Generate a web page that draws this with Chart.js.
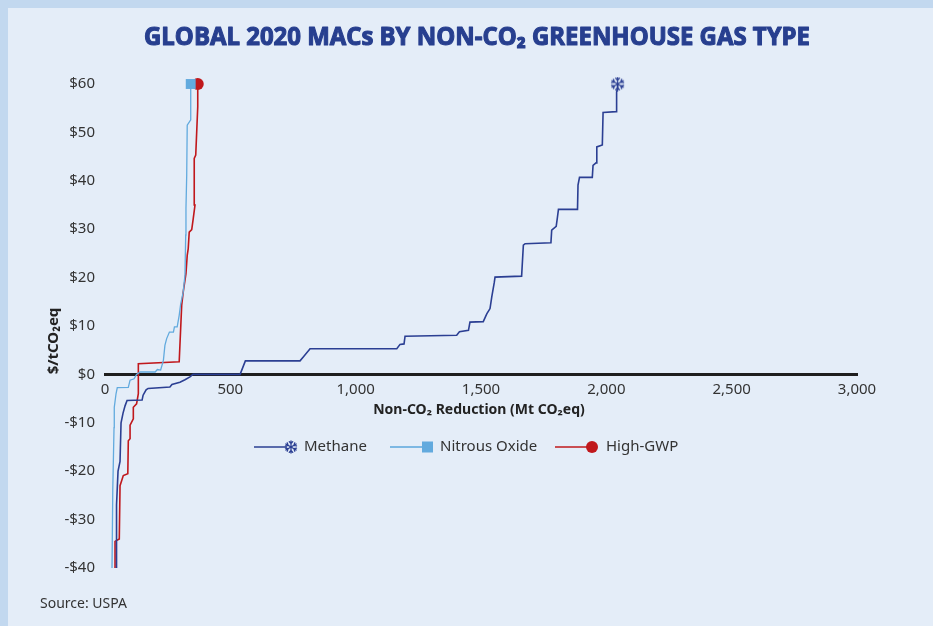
<!DOCTYPE html>
<html>
<head>
<meta charset="utf-8">
<title>Global 2020 MACs by non-CO2 greenhouse gas type</title>
<script src="https://cdn.jsdelivr.net/npm/chart.js@4.4.1/dist/chart.umd.min.js"></script>
<style>
    html, body { margin: 0; padding: 0; background: #e4edf8; }
    #chart { display: block; }
</style>
</head>
<body>
<canvas id="chart" width="933" height="626"></canvas>
<script>
// Curve vertices: reduction (Mt CO2eq) and marginal cost ($/tCO2eq)
const methaneX = [44, 46, 52, 60, 64, 72, 80, 88, 148, 152, 164, 172, 259, 267, 299, 319, 339, 351,
    539, 551, 560, 778, 791, 818, 1164, 1177, 1193, 1197, 1403, 1414, 1450, 1456, 1509, 1523, 1536,
    1543, 1553, 1556, 1662, 1669, 1676, 1779, 1782, 1800, 1805, 1809, 1885, 1887, 1893, 1944, 1947,
    1959, 1962, 1984, 1987, 2039, 2041, 2045, 2045];
const methaneY = [-45, -27, -20, -18, -10, -8, -6.5, -5.4, -5.3, -4.3, -3.2, -2.9, -2.6, -2.1, -1.6, -1.1, -0.5, 0,
    0, 1.6, 2.8, 2.8, 3.6, 5.3, 5.3, 6.2, 6.3, 7.9, 8.1, 8.8, 9.1, 10.8, 10.9, 12.5, 13.6,
    16, 19, 20.1, 20.3, 26.7, 27, 27.2, 29.8, 30.6, 32.5, 34.1, 34.1, 39.1, 40.7, 40.7, 43.2,
    43.7, 47, 47.4, 54.1, 54.3, 58.4, 59.1, 60];

const nitrousX = [27, 31, 36, 37, 44, 49, 93, 100, 116, 126, 140, 200, 209, 222, 233, 239, 246, 257,
    273, 277, 288, 296, 302, 312, 319, 322, 323, 326, 328, 342, 342];
const nitrousY = [-45, -24, -11, -6.8, -4, -2.75, -2.7, -1.2, -0.9, 0, 0.5, 0.5, 1, 0.9, 2.9, 6, 7.4, 8.75,
    8.75, 9.8, 9.8, 12.2, 14.6, 17, 20.5, 28.8, 34.3, 41.2, 51.5, 52.6, 60];

const highGwpX = [40, 40, 57, 60, 73, 91, 93, 100, 100, 113, 113, 126, 133, 133, 296, 306, 312, 323,
    328, 332, 336, 346, 352, 359, 356, 362, 370, 370];
const highGwpY = [-45, -34.5, -34, -23, -20.9, -20.5, -13.7, -13.3, -10.5, -9.2, -6.8, -6.1, -4, 2.2, 2.6, 14.3, 17, 20.8,
    24.6, 26, 29.4, 29.9, 32.2, 35, 44.6, 45.3, 55.3, 60];

const seriesNames = ['Methane', 'Nitrous Oxide', 'High-GWP'];
const xTickValues = [0, 500, 1000, 1500, 2000, 2500, 3000];
const yTickValues = [-40, -30, -20, -10, 0, 10, 20, 30, 40, 50, 60];

const METHANE_COLOR = '#2b3f93';
const NITROUS_COLOR = '#62aade';
const GWP_COLOR = '#c0181c';
const FONT = '"Noto Sans", "Open Sans", sans-serif';

// Turn two arrays into {x, y} points
function toPoints(xs, ys) {
    return xs.map((x, i) => ({ x: x, y: ys[i] }));
}

// Small snowflake, used as the methane marker
function drawSnowflake(ctx, x, y, r, color) {
    ctx.save();
    ctx.strokeStyle = color;
    ctx.lineWidth = 1.3;
    ctx.lineCap = 'round';
    for (let k = 0; k < 6; k++) {
        const a = Math.PI / 2 + k * Math.PI / 3;
        const ex = x + Math.cos(a) * r, ey = y + Math.sin(a) * r;
        ctx.beginPath();
        ctx.moveTo(x, y);
        ctx.lineTo(ex, ey);
        const bx = x + Math.cos(a) * r * 0.55, by = y + Math.sin(a) * r * 0.55;
        [-0.7, 0.7].forEach(d => {
            ctx.moveTo(bx, by);
            ctx.lineTo(bx + Math.cos(a + d) * r * 0.45, by + Math.sin(a + d) * r * 0.45);
        });
        ctx.stroke();
    }
    ctx.restore();
}

function snowflakeCanvas(size, color) {
    const c = document.createElement('canvas');
    c.width = size;
    c.height = size;
    drawSnowflake(c.getContext('2d'), size / 2, size / 2, size / 2 - 1, color);
    return c;
}

// Only the last vertex of each curve gets a marker
function lastOnly(n, r) {
    return ctx => (ctx.dataIndex === n - 1 ? r : 0);
}

// Background, titles, legend and source line
const decor = {
    id: 'decor',
    beforeDraw(chart) {
        const ctx = chart.ctx;
        ctx.save();
        ctx.fillStyle = '#e4edf8';
        ctx.fillRect(0, 0, chart.width, chart.height);
        ctx.fillStyle = '#c2d8ef';
        ctx.fillRect(0, 0, chart.width, 8);
        ctx.fillRect(0, 0, 8, chart.height);
        ctx.restore();
    },
    afterDraw(chart) {
        const ctx = chart.ctx;
        ctx.save();

        // main title, squeezed to the width of the original
        const title = 'GLOBAL 2020 MACs BY NON-CO\u2082 GREENHOUSE GAS TYPE';
        ctx.font = 'bold 25px "Open Sans", sans-serif';
        ctx.fillStyle = '#273f8f';
        ctx.strokeStyle = '#273f8f';
        ctx.lineWidth = 1.1;
        ctx.lineJoin = 'round';
        ctx.textBaseline = 'alphabetic';
        ctx.textAlign = 'left';
        const w = ctx.measureText(title).width;
        const sx = 666 / w;
        ctx.save();
        ctx.translate(144, 45);
        ctx.scale(sx, 1);
        ctx.fillText(title, 0, 0);
        ctx.strokeText(title, 0, 0);
        ctx.restore();

        // x axis title
        ctx.fillStyle = '#222';
        ctx.font = 'bold 14px ' + FONT;
        ctx.textAlign = 'center';
        ctx.textBaseline = 'middle';
        ctx.fillText('Non-CO\u2082 Reduction (Mt CO\u2082eq)', 479, 410);

        // y axis title
        ctx.save();
        ctx.translate(54, 341);
        ctx.rotate(-Math.PI / 2);
        ctx.font = 'bold 15px ' + FONT;
        ctx.fillText('$/tCO\u2082eq', 0, 0);
        ctx.restore();

        // legend
        const ly = 447;
        ctx.lineWidth = 1.6;
        ctx.font = '15px ' + FONT;
        ctx.textAlign = 'left';
        ctx.fillStyle = '#333';

        ctx.strokeStyle = METHANE_COLOR;
        ctx.beginPath(); ctx.moveTo(254, ly); ctx.lineTo(287, ly); ctx.stroke();
        drawSnowflake(ctx, 291, ly, 6, METHANE_COLOR);
        ctx.fillStyle = '#333';
        ctx.fillText(seriesNames[0], 304, ly);

        ctx.strokeStyle = NITROUS_COLOR;
        ctx.beginPath(); ctx.moveTo(390, ly); ctx.lineTo(422, ly); ctx.stroke();
        ctx.fillStyle = NITROUS_COLOR;
        ctx.fillRect(422, ly - 5.5, 11, 11);
        ctx.fillStyle = '#333';
        ctx.fillText(seriesNames[1], 440, ly);

        ctx.strokeStyle = GWP_COLOR;
        ctx.beginPath(); ctx.moveTo(555, ly); ctx.lineTo(588, ly); ctx.stroke();
        ctx.fillStyle = GWP_COLOR;
        ctx.beginPath(); ctx.arc(592, ly, 6, 0, Math.PI * 2); ctx.fill();
        ctx.fillStyle = '#333';
        ctx.fillText(seriesNames[2], 606, ly);

        // source
        ctx.font = '14px ' + FONT;
        ctx.fillText('Source: USPA', 40, 604);

        ctx.restore();
    }
};

document.addEventListener('DOMContentLoaded', function () {
    const ctx = document.getElementById('chart').getContext('2d');
    const clip = { left: 5, top: false, right: 5, bottom: 0 };

    new Chart(ctx, {
        type: 'scatter',
        data: {
            datasets: [{
                label: seriesNames[0],
                data: toPoints(methaneX, methaneY),
                showLine: true,
                borderColor: METHANE_COLOR,
                borderWidth: 1.6,
                pointStyle: snowflakeCanvas(15, METHANE_COLOR),
                pointRadius: lastOnly(methaneX.length, 6),
                clip: clip
            }, {
                label: seriesNames[1],
                data: toPoints(nitrousX, nitrousY),
                showLine: true,
                borderColor: NITROUS_COLOR,
                borderWidth: 1.3,
                pointStyle: 'rect',
                pointRadius: lastOnly(nitrousX.length, 7),
                pointBackgroundColor: NITROUS_COLOR,
                pointBorderWidth: 0,
                clip: clip
            }, {
                label: seriesNames[2],
                data: toPoints(highGwpX, highGwpY),
                showLine: true,
                borderColor: GWP_COLOR,
                borderWidth: 1.6,
                pointStyle: 'circle',
                pointRadius: lastOnly(highGwpX.length, 6),
                pointBackgroundColor: GWP_COLOR,
                pointBorderWidth: 0,
                clip: clip
            }]
        },
        options: {
            responsive: false,
            animation: false,
            events: [],
            layout: {
                padding: { top: 84, right: 76, bottom: 58, left: 0 }
            },
            plugins: {
                legend: { display: false },
                tooltip: { enabled: false }
            },
            scales: {
                x: {
                    type: 'linear',
                    min: 0,
                    max: 3000,
                    position: { y: 0 },
                    afterFit: s => { s.height = 0; },
                    afterBuildTicks: s => { s.ticks = xTickValues.map(v => ({ value: v })); },
                    grid: { display: false, drawTicks: false },
                    border: { display: true, color: '#1e1e1e', width: 3 },
                    ticks: {
                        padding: 6,
                        autoSkip: false,
                        maxRotation: 0,
                        color: '#333',
                        font: { family: FONT, size: 15 },
                        callback: v => v.toLocaleString('en-US')
                    }
                },
                y: {
                    type: 'linear',
                    min: -40,
                    max: 60,
                    afterFit: s => { s.width = 105; },
                    afterBuildTicks: s => { s.ticks = yTickValues.map(v => ({ value: v })); },
                    grid: { display: false, drawTicks: false },
                    border: { display: false },
                    ticks: {
                        padding: 10,
                        color: '#333',
                        font: { family: FONT, size: 15 },
                        callback: v => (v < 0 ? '-$' + (-v) : '$' + v)
                    }
                }
            }
        },
        plugins: [decor]
    });
});
</script>
</body>
</html>
